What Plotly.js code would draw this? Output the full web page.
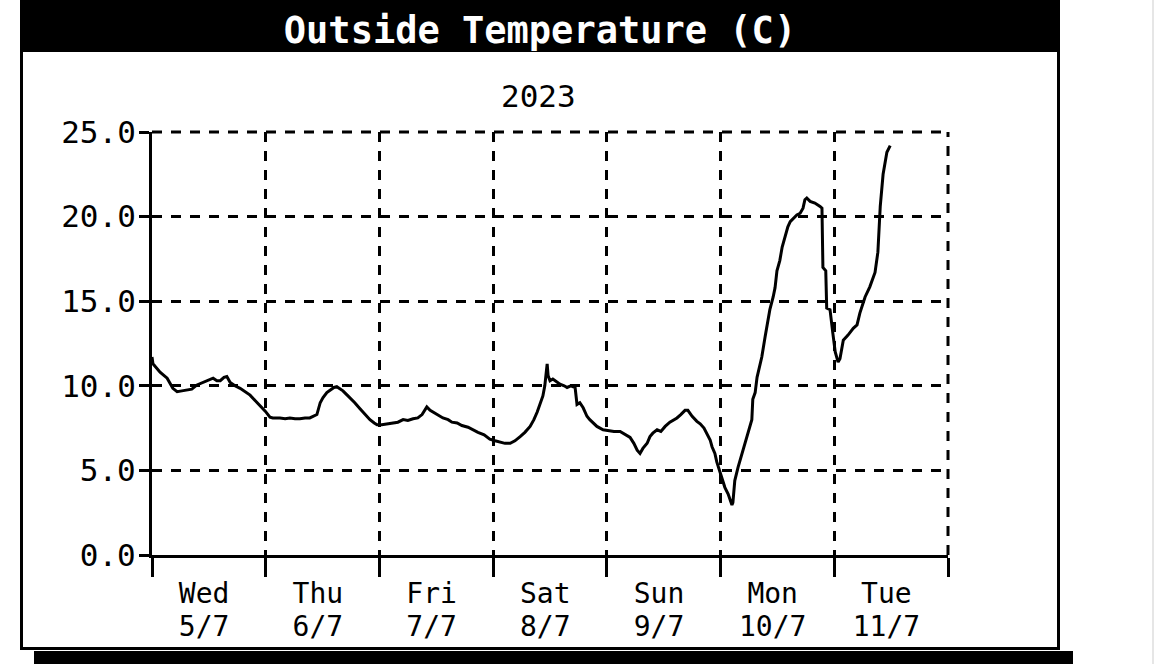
<!DOCTYPE html>
<html>
<head>
<meta charset="utf-8">
<script src="https://cdn.plot.ly/plotly-3.0.1.min.js"></script>
<style>
html,body{margin:0;padding:0;background:#fff;}
#chart{width:1155px;height:664px;}
</style>
</head>
<body>
<div id="chart"></div>
<script>
// ---- data (hours since Wed 5/7 00:00, temperature in C) ----
const hours = [0,0.2,1.7,3.2,4.4,5.3,6.3,7.4,8.4,9.5,10.8,11.8,12.9,13.7,14.4,15.2,15.8,16.5,17.5,18.6,19.6,20.7,21.7,22.8,23.9,24.9,25.5,27.0,28.1,29.1,30.2,31.2,32.3,33.3,34.0,34.8,35.5,36.1,36.9,37.6,38.4,39.0,39.7,40.3,41.2,41.8,42.8,43.9,45.0,46.0,46.9,47.5,48.5,49.6,50.9,51.9,53.0,54.0,55.1,56.1,57.0,57.6,58.0,58.7,59.3,60.2,61.4,62.5,63.3,64.4,65.4,66.7,67.7,68.8,70.1,71.3,72.4,73.4,74.5,75.6,76.6,77.7,78.7,79.8,80.6,81.3,81.9,82.5,82.9,83.4,83.6,84.0,84.6,85.5,86.1,87.0,87.6,88.4,89.3,89.7,90.3,91.0,91.8,92.4,93.1,93.9,95.2,96.2,97.5,98.8,99.8,100.9,101.7,102.4,103.0,103.6,104.5,105.1,105.7,106.6,107.4,108.3,109.3,110.2,110.8,111.6,112.5,113.1,114.0,115.0,115.7,116.5,117.1,117.8,118.2,118.8,119.2,119.9,120.5,120.9,121.6,122.0,122.4,122.6,123.0,123.7,124.5,125.2,125.6,126.2,126.6,126.8,127.3,127.7,128.3,128.7,129.4,130.0,130.4,131.1,131.5,131.9,132.5,133.0,133.6,134.2,134.7,135.3,136.1,136.8,137.4,137.8,138.2,138.9,139.9,141.0,141.4,141.6,142.2,142.4,143.1,143.7,144.2,144.8,145.2,145.9,146.9,148.0,148.8,149.4,150.5,151.5,152.6,153.2,153.7,154.3,155.1,155.8];
const tempC = [11.7,11.3,10.8,10.45,9.85,9.65,9.7,9.75,9.8,10.05,10.2,10.3,10.45,10.3,10.3,10.5,10.55,10.2,10.0,9.85,9.65,9.45,9.15,8.85,8.5,8.15,8.1,8.1,8.05,8.1,8.05,8.05,8.1,8.1,8.2,8.3,9.0,9.3,9.6,9.75,9.9,9.95,9.8,9.7,9.45,9.3,9.0,8.65,8.3,8.0,7.8,7.7,7.7,7.75,7.8,7.85,8.0,7.95,8.05,8.1,8.3,8.6,8.75,8.55,8.45,8.3,8.1,8.0,7.85,7.8,7.65,7.55,7.4,7.25,7.1,6.85,6.75,6.7,6.6,6.6,6.75,7.0,7.25,7.6,8.0,8.45,8.9,9.4,10.0,11.3,10.6,10.3,10.4,10.2,10.1,10.0,9.9,10.0,9.9,8.9,9.0,8.7,8.2,8.0,7.8,7.6,7.4,7.35,7.3,7.3,7.15,6.95,6.6,6.2,6.0,6.3,6.6,7.0,7.2,7.4,7.3,7.6,7.85,8.0,8.1,8.3,8.55,8.55,8.2,7.9,7.75,7.5,7.2,6.8,6.4,6.0,5.5,4.85,4.4,4.0,3.6,3.3,2.95,3.1,4.4,5.2,6.0,6.6,7.0,7.6,8.0,9.2,9.6,10.5,11.2,11.7,12.9,13.8,14.5,15.25,15.8,16.8,17.4,18.2,18.8,19.4,19.7,19.9,20.1,20.2,20.5,21.0,21.1,20.9,20.8,20.6,20.5,17.0,16.8,14.6,14.5,13.1,12.0,11.4,11.6,12.7,13.0,13.4,13.6,14.3,15.25,15.85,16.7,17.9,20.6,22.5,23.8,24.2];

const dayBoundaries = [0,24,48,72,96,120,144,168];
const dayLabelPos = [11,35,59,83,107,131,155];
const dayNames = ["Wed","Thu","Fri","Sat","Sun","Mon","Tue"];
const dayDates = ["5/7","6/7","7/7","8/7","9/7","10/7","11/7"];
const yTicks = [0,5,10,15,20,25];
const chartTitle = "Outside Temperature (C)";
const yearLabel = "2023";

// ---- layout helpers (pixel -> paper) ----
const W = 1155, H = 664;
const M = {l:152, r:207, t:132, b:109};
const PW = W - M.l - M.r, PH = H - M.t - M.b;
const px = x => (x - M.l) / PW;
const py = y => (H - M.b - y) / PH;

const FONT = "DejaVu Sans Mono, Liberation Mono, monospace";

const trace = {
  x: hours, y: tempC, type: "scatter", mode: "lines",
  line: {color: "#000", width: 3}, hoverinfo: "skip", showlegend: false
};
// invisible helper traces to activate label axes
const tDays = {x:[0,168], y:[0,0], xaxis:"x2", yaxis:"y", mode:"lines", line:{width:0}, showlegend:false, hoverinfo:"skip"};
const tDates = {x:[0,168], y:[0,0], xaxis:"x3", yaxis:"y", mode:"lines", line:{width:0}, showlegend:false, hoverinfo:"skip"};

const gridDash = "10px,9px";
const gridW = 3;

const layout = {
  width: W, height: H,
  margin: M,
  paper_bgcolor: "#fff", plot_bgcolor: "rgba(0,0,0,0)",
  font: {family: FONT, color: "#000", size: 31},
  title: {
    text: "<b>" + chartTitle + "</b>", xref: "container", yref: "container",
    x: 540 / W, y: 1 - 30 / H, xanchor: "center", yanchor: "middle",
    font: {family: FONT, size: 37, color: "#fff"}
  },
  xaxis: {
    range: [0,168], tickvals: dayBoundaries, ticktext: dayBoundaries.map(() => ""),
    showgrid: true, gridcolor: "#000", gridwidth: gridW, griddash: gridDash,
    showline: true, linecolor: "#000", linewidth: 3,
    ticks: "outside", ticklen: 19, tickwidth: 3, tickcolor: "#000",
    zeroline: false, fixedrange: true
  },
  xaxis2: {
    overlaying: "x", range: [0,168], tickvals: dayLabelPos, ticktext: dayNames,
    showgrid: false, showline: false, ticks: "", zeroline: false,
    ticklabelstandoff: 19, tickfont: {family: FONT, size: 28, color: "#000"}
  },
  xaxis3: {
    overlaying: "x", range: [0,168], tickvals: dayLabelPos, ticktext: dayDates,
    showgrid: false, showline: false, ticks: "", zeroline: false,
    ticklabelstandoff: 52, tickfont: {family: FONT, size: 28, color: "#000"}
  },
  yaxis: {
    range: [0,25], tickvals: yTicks, tickformat: ".1f",
    showgrid: true, gridcolor: "#000", gridwidth: gridW, griddash: gridDash,
    showline: true, linecolor: "#000", linewidth: 3,
    ticks: "outside", ticklen: 10, tickwidth: 3, tickcolor: "#000",
    zeroline: false, fixedrange: true, ticklabelstandoff: -3
  },
  annotations: [{
    text: yearLabel, xref: "paper", yref: "paper",
    x: px(538), y: py(96), xanchor: "center", yanchor: "middle",
    showarrow: false, font: {family: FONT, size: 31, color: "#000"}
  }],
  shapes: [
    {type:"rect", xref:"paper", yref:"paper", x0:px(21.5), x1:px(1058.5), y0:py(648.5), y1:py(1),
      line:{color:"#000", width:3}, fillcolor:"rgba(0,0,0,0)", layer:"below"},
    {type:"rect", xref:"paper", yref:"paper", x0:px(20), x1:px(1060), y0:py(52), y1:py(0),
      line:{width:0}, fillcolor:"#000", layer:"below"},
    {type:"rect", xref:"paper", yref:"paper", x0:px(34), x1:px(1073), y0:py(664), y1:py(651),
      line:{width:0}, fillcolor:"#000", layer:"below"},
    {type:"line", xref:"paper", yref:"paper", x0:px(1153), x1:px(1153), y0:py(664), y1:py(0),
      line:{color:"#e6e6e6", width:2}, layer:"below"},
    // dashed grid lines on the plot's top and right edges
    {type:"line", xref:"paper", yref:"paper", x0:0, x1:1, y0:1, y1:1,
      line:{color:"#000", width:gridW, dash:gridDash}, layer:"below"},
    {type:"line", xref:"paper", yref:"paper", x0:1, x1:1, y0:0, y1:1,
      line:{color:"#000", width:gridW, dash:gridDash}, layer:"below"}
  ]
};

Plotly.newPlot("chart", [trace, tDays, tDates], layout, {displayModeBar: false, staticPlot: true});
</script>
</body>
</html>
